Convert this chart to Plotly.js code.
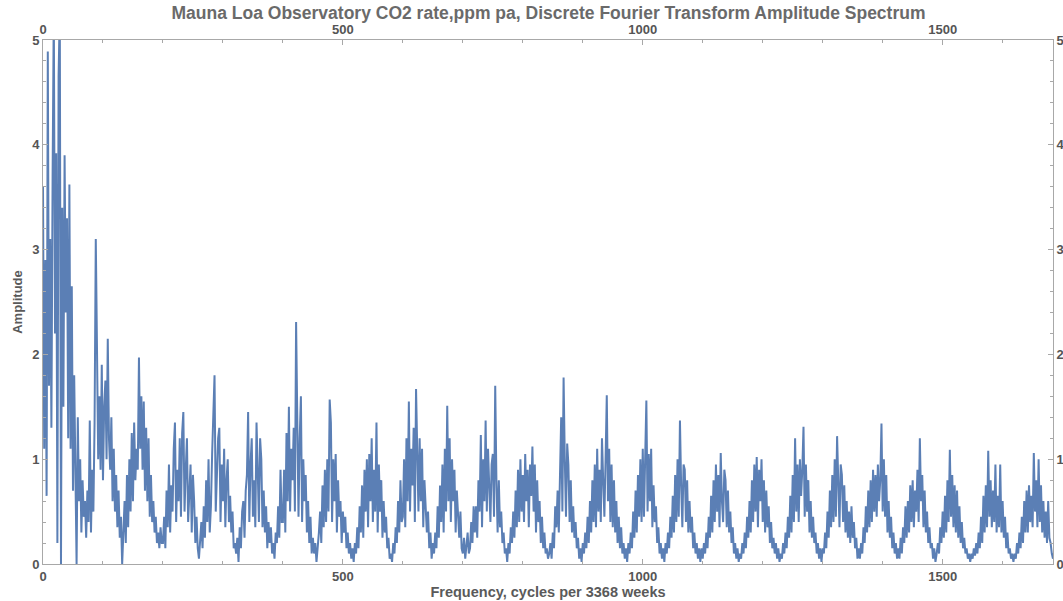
<!DOCTYPE html>
<html>
<head>
<meta charset="utf-8">
<script src="https://cdn.plot.ly/plotly-3.0.1.min.js"></script>
<style>html,body{margin:0;padding:0;background:#fff;}#chart{width:1063px;height:601px;}</style>
</head>
<body>
<div id="chart"></div>
<script>
// Frequency sampling of the reconstructed spectrum (cycles per 3368 weeks)
const freqStart = 0;
const freqStep = 2;

// Amplitude values, one array per 200-cycle band
const ampBand0 = [
  3.6,1.1,2.9,0.65,4.89,1.7,3.1,1.3,3.7,5.3,
  2.2,3.92,0.2,4.65,5.3,0.0,3.4,1.5,3.9,2.4,
  3.3,1.2,3.62,1.1,2.65,0.7,1.8,0.5,0.0,1.4,
  0.6,1.0,0.3,0.8,0.45,0.6,0.25,0.7,0.4,1.37,
  0.3,0.9,0.5,1.35,3.1,2.07,1.0,1.6,0.9,1.9,
  0.8,1.5,1.75,1.0,2.15,1.2,0.9,1.4,0.6,1.1,
  0.5,0.85,0.35,0.7,0.25,0.45,0.0,0.3,0.6,0.2,
  0.85,0.35,1.0,0.5,1.25,0.6,1.35,0.8,1.1,0.9,
  1.97,1.1,1.6,0.9,1.55,0.7,1.3,0.6,1.2,0.45,
  0.85,0.4,0.6,0.3,0.45,0.2,0.3,0.15,0.35,0.2];
const ampBand200 = [
  0.2,0.45,0.15,0.7,0.35,0.95,0.3,0.75,0.5,1.1,
  1.35,0.4,0.9,0.6,1.2,0.45,1.25,1.45,0.5,0.9,
  1.2,0.4,0.75,0.95,0.3,0.85,0.6,0.2,0.45,0.15,
  0.05,0.25,0.4,0.15,0.55,0.25,0.8,0.4,1.0,0.3,
  0.55,1.05,1.5,1.8,0.5,0.9,1.2,1.3,0.4,0.95,
  0.6,1.1,0.35,0.8,1.0,0.4,0.65,0.3,0.5,0.15,
  0.2,0.1,0.25,0.02,0.35,0.15,0.5,0.6,0.25,0.7,
  0.85,1.45,0.4,0.95,1.2,0.45,0.8,0.35,1.35,0.9,
  0.4,1.2,1.0,0.35,0.7,0.3,0.55,0.15,0.4,0.2,
  0.35,0.1,0.2,0.05,0.3,0.2,0.55,0.25,0.9,0.4];
const ampBand400 = [
  0.4,0.9,0.3,1.25,0.6,1.5,0.5,1.1,0.8,1.3,
  0.5,2.31,1.0,0.45,1.2,1.6,0.4,1.0,0.6,0.85,
  0.3,0.6,0.2,0.45,0.1,0.25,0.1,0.2,0.02,0.15,
  0.3,0.5,0.2,0.75,0.35,0.9,0.4,1.0,0.5,1.57,
  1.35,0.4,1.0,0.6,1.05,0.3,0.8,0.45,0.6,0.2,
  0.5,0.3,0.45,0.15,0.3,0.1,0.2,0.05,0.15,0.02,
  0.2,0.1,0.35,0.15,0.55,0.3,0.75,0.25,0.9,0.5,
  1.0,0.35,1.05,0.6,1.2,0.4,0.9,0.5,1.35,0.3,
  0.95,0.5,0.8,0.25,0.6,0.3,0.45,0.15,0.25,0.05,
  0.1,0.02,0.2,0.1,0.35,0.2,0.6,0.3,0.8,0.4];
const ampBand600 = [
  0.45,1.0,0.35,1.2,0.6,1.55,0.5,1.1,0.75,1.3,
  0.4,1.67,1.0,0.5,1.2,0.6,1.1,0.35,0.8,0.45,
  0.3,0.5,0.15,0.3,0.05,0.2,0.1,0.3,0.15,0.55,
  0.25,0.75,0.4,0.95,0.3,1.1,0.5,1.51,0.6,1.2,
  0.4,1.0,0.6,0.9,0.3,0.7,0.45,0.25,0.5,0.15,
  0.1,0.25,0.05,0.2,0.3,0.1,0.15,0.4,0.2,0.55,
  0.3,0.55,0.25,0.8,0.5,1.23,0.35,1.0,0.6,1.37,
  0.5,1.1,0.65,0.4,0.95,1.05,0.45,1.7,0.8,0.3,
  0.8,0.35,0.5,0.2,0.3,0.1,0.15,0.02,0.2,0.1,
  0.35,0.2,0.5,0.25,0.7,0.35,0.9,0.4,1.0,0.5];
const ampBand800 = [
  0.85,0.4,1.05,0.6,0.9,0.35,0.95,0.65,1.12,0.5,
  0.95,0.3,0.8,0.4,0.6,0.2,0.45,0.15,0.3,0.1,
  0.15,0.05,0.1,0.2,0.05,0.3,0.15,0.55,0.35,0.7,
  0.3,0.9,1.4,0.5,1.78,1.0,0.45,1.15,0.95,0.4,
  0.8,0.3,0.55,0.25,0.4,0.15,0.25,0.05,0.15,0.02,
  0.2,0.1,0.3,0.15,0.45,0.2,0.6,0.3,0.8,0.4,
  0.95,0.35,1.1,0.5,0.9,0.4,1.2,0.8,0.45,1.0,
  1.61,0.6,1.1,0.4,0.95,0.35,0.8,0.3,0.6,0.2,
  0.45,0.15,0.35,0.1,0.2,0.05,0.15,0.02,0.2,0.1,
  0.3,0.15,0.5,0.25,0.7,0.3,0.85,0.45,1.0,0.4];
const ampBand1000 = [
  1.1,0.45,0.9,1.56,0.5,1.05,0.6,1.1,0.35,0.75,
  0.4,0.55,0.2,0.35,0.1,0.2,0.05,0.15,0.02,0.2,
  0.1,0.3,0.15,0.45,0.25,0.65,0.3,0.85,0.4,1.0,
  0.45,1.37,0.75,0.35,0.95,0.9,0.4,0.8,0.3,0.6,
  0.3,0.45,0.15,0.3,0.1,0.2,0.05,0.15,0.02,0.15,
  0.05,0.2,0.1,0.3,0.15,0.45,0.25,0.65,0.3,0.8,
  0.4,0.95,0.5,0.85,0.35,1.06,0.6,0.4,0.9,0.8,
  0.35,0.7,0.3,0.5,0.2,0.35,0.1,0.2,0.05,0.15,
  0.02,0.1,0.05,0.2,0.1,0.3,0.15,0.45,0.25,0.6,
  0.3,0.8,0.4,0.95,0.5,1.02,0.35,0.9,0.6,1.0];
const ampBand1200 = [
  0.4,0.8,0.3,0.7,0.35,0.55,0.2,0.4,0.15,0.25,
  0.1,0.2,0.05,0.15,0.02,0.1,0.05,0.2,0.1,0.3,
  0.15,0.45,0.25,0.65,0.3,0.85,0.4,1.2,0.5,0.95,
  0.4,1.0,0.65,0.9,1.31,0.45,0.95,0.5,0.8,0.3,
  0.6,0.25,0.45,0.2,0.3,0.1,0.2,0.05,0.15,0.02,
  0.15,0.1,0.3,0.15,0.5,0.25,0.7,0.35,0.85,0.4,
  1.0,0.45,1.22,0.7,0.35,0.95,0.85,0.4,0.75,0.3,
  0.6,0.25,0.5,0.2,0.55,0.25,0.4,0.15,0.25,0.05,
  0.15,0.05,0.2,0.1,0.35,0.2,0.55,0.3,0.7,0.35,
  0.8,0.4,0.9,0.5,0.85,0.45,0.95,0.6,0.8,1.34];
const ampBand1400 = [
  0.5,1.0,0.45,0.85,0.3,0.6,0.25,0.45,0.15,0.3,
  0.1,0.2,0.05,0.15,0.05,0.25,0.1,0.35,0.2,0.55,
  0.25,0.6,0.3,0.75,0.4,0.8,0.35,0.7,0.5,0.9,
  0.4,1.2,0.6,0.85,0.35,0.7,0.3,0.5,0.2,0.35,
  0.15,0.2,0.05,0.15,0.02,0.1,0.2,0.1,0.35,0.2,
  0.5,0.25,0.65,0.3,0.8,0.4,1.09,0.45,0.85,0.35,
  0.75,0.3,0.7,0.25,0.55,0.2,0.4,0.15,0.25,0.1,
  0.15,0.05,0.1,0.02,0.1,0.05,0.15,0.08,0.2,0.1,
  0.3,0.15,0.45,0.2,0.65,0.3,0.75,0.35,1.08,0.45,
  0.8,0.35,0.7,0.4,0.95,0.3,0.65,0.35,0.95,0.3];
const ampBand1600 = [
  0.6,0.25,0.45,0.15,0.3,0.1,0.15,0.05,0.1,0.02,
  0.1,0.05,0.2,0.1,0.3,0.15,0.45,0.2,0.6,0.3,
  0.7,0.3,0.75,0.4,0.65,0.35,1.06,0.5,0.8,0.35,
  1.0,0.4,0.75,0.3,0.6,0.25,0.5,0.2,0.6,0.25,
  0.2,0.1,0.05];

// Axis tick labels
const xTickVals = [0, 500, 1000, 1500];
const xTickText = ['0', '500', '1000', '1500'];
const yTickVals = [0, 1, 2, 3, 4, 5];
const yTickText = ['0', '1', '2', '3', '4', '5'];

const amplitude = [].concat(ampBand0, ampBand200, ampBand400, ampBand600, ampBand800,
  ampBand1000, ampBand1200, ampBand1400, ampBand1600);
const frequency = amplitude.map((_, i) => freqStart + i * freqStep);
const xMax = frequency[frequency.length - 1];

const fontFamily = 'Liberation Sans, Arial, sans-serif';
const tickFont = {family: fontFamily, size: 13, color: '#555555', weight: 700};
const frameColor = '#a8a8a8';

const xCommon = {
  range: [0, xMax], showgrid: false, zeroline: false, showline: true, linecolor: frameColor, linewidth: 1,
  ticks: 'inside', ticklen: 5, tickcolor: frameColor, tickvals: xTickVals, ticktext: xTickText,
  tickfont: tickFont, fixedrange: true,
  minor: {ticks: 'inside', ticklen: 3, tickcolor: frameColor, dtick: 100, tick0: 0, showgrid: false}
};
const yCommon = {
  range: [0, 5], showgrid: false, zeroline: false, showline: true, linecolor: frameColor, linewidth: 1,
  ticks: 'inside', ticklen: 5, tickcolor: frameColor, tickvals: yTickVals, ticktext: yTickText,
  tickfont: tickFont, fixedrange: true,
  minor: {ticks: 'inside', ticklen: 3, tickcolor: frameColor, dtick: 0.2, tick0: 0, showgrid: false}
};

const traces = [
  {x: frequency, y: amplitude, type: 'scatter', mode: 'lines',
   line: {color: '#5b7fb5', width: 2}, hoverinfo: 'x+y', cliponaxis: true, xaxis: 'x', yaxis: 'y'},
  {x: [null], y: [null], type: 'scatter', mode: 'lines', xaxis: 'x2', yaxis: 'y2', showlegend: false, hoverinfo: 'skip'}
];

const layout = {
  width: 1063, height: 601,
  margin: {l: 43, r: 10, t: 40, b: 37, pad: 0},
  paper_bgcolor: '#ffffff', plot_bgcolor: '#ffffff',
  showlegend: false,
  title: {
    text: 'Mauna Loa Observatory CO2 rate,ppm pa, Discrete Fourier Transform Amplitude Spectrum',
    font: {family: fontFamily, size: 17.5, color: '#6a6a6a', weight: 700},
    x: 0.516, xanchor: 'center', xref: 'container', y: 0.978, yanchor: 'middle', yref: 'container'
  },
  xaxis: Object.assign({}, xCommon, {
    side: 'bottom', anchor: 'y',
    title: {text: 'Frequency, cycles per 3368 weeks', standoff: 2,
      font: {family: fontFamily, size: 14.5, color: '#5a5a5a', weight: 700}},
    automargin: false
  }),
  xaxis2: Object.assign({}, xCommon, {side: 'top', overlaying: 'x', anchor: 'y2', automargin: false}),
  yaxis: Object.assign({}, yCommon, {
    side: 'left', anchor: 'x',
    title: {text: 'Amplitude', standoff: 6,
      font: {family: fontFamily, size: 13, color: '#5a5a5a', weight: 700}},
    automargin: false
  }),
  yaxis2: Object.assign({}, yCommon, {side: 'right', overlaying: 'y', anchor: 'x2', automargin: false})
};

Plotly.newPlot('chart', traces, layout, {displayModeBar: false, staticPlot: true});
</script>
</body>
</html>
